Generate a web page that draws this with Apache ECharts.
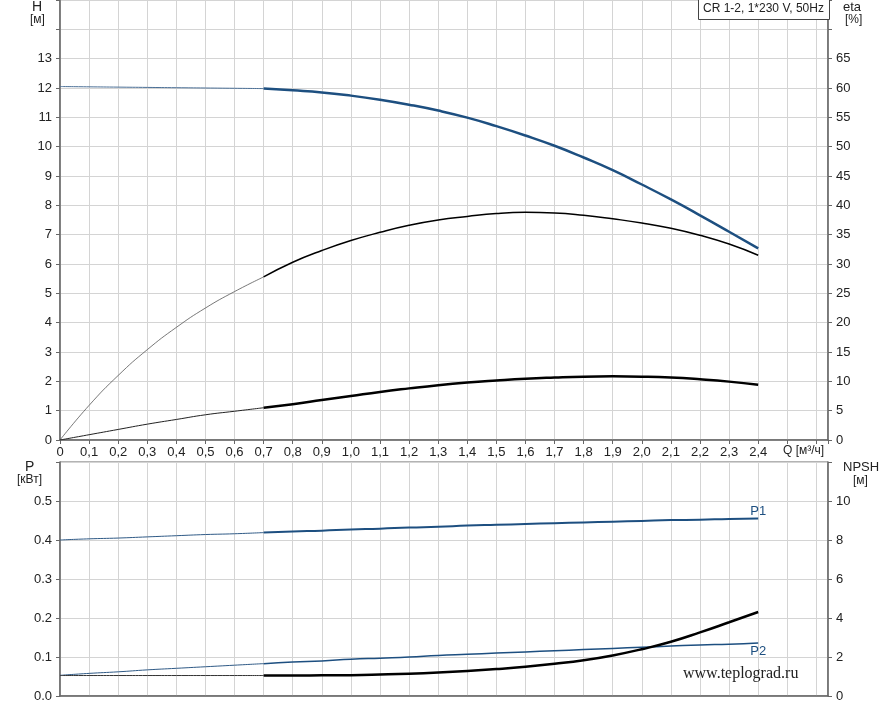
<!DOCTYPE html>
<html>
<head>
<meta charset="utf-8">
<script src="https://cdn.jsdelivr.net/npm/echarts@6/dist/echarts.min.js"></script>
<style>html,body{margin:0;padding:0;background:#fff}#c{width:893px;height:705px}</style>
</head>
<body>
<div id="c"></div>
<script>
// Flow values (m³/h)
var qThin = [0, 0.1, 0.2, 0.3, 0.4, 0.5, 0.6, 0.7];
var qThick = [0.7, 0.8, 0.9, 1.0, 1.1, 1.2, 1.3, 1.4, 1.5, 1.6, 1.7, 1.8, 1.9, 2.0, 2.1, 2.2, 2.3, 2.4];

// Head H [m]
var headThin = [12.05, 12.04, 12.03, 12.02, 12.01, 12.0, 11.99, 11.98];
var headThick = [11.98, 11.92, 11.85, 11.74, 11.60, 11.43, 11.23, 10.99, 10.70, 10.38, 10.03, 9.63, 9.20, 8.71, 8.20, 7.66, 7.10, 6.53];

// Pump efficiency eta [%]
var etaThin = [0, 5.9, 11.0, 15.4, 19.2, 22.5, 25.3, 27.8];
var etaThick = [27.8, 30.3, 32.3, 34.0, 35.4, 36.6, 37.5, 38.1, 38.6, 38.8, 38.7, 38.3, 37.7, 37.0, 36.1, 34.9, 33.4, 31.5];

// Total efficiency eta [%]
var etaTotThin = [0, 0.9, 1.8, 2.7, 3.5, 4.3, 4.9, 5.5];
var etaTotThick = [5.5, 6.1, 6.8, 7.5, 8.2, 8.8, 9.35, 9.8, 10.15, 10.45, 10.65, 10.8, 10.85, 10.8, 10.65, 10.35, 9.95, 9.4];

// Power P1, P2 [kW]
var p1Thin = [0.400, 0.403, 0.405, 0.408, 0.411, 0.414, 0.416, 0.419];
var p1Thick = [0.419, 0.422, 0.424, 0.427, 0.429, 0.432, 0.434, 0.437, 0.439, 0.441, 0.443, 0.445, 0.447, 0.449, 0.451, 0.452, 0.454, 0.455];
var p2Thin = [0.053, 0.058, 0.062, 0.067, 0.071, 0.075, 0.079, 0.083];
var p2Thick = [0.083, 0.087, 0.090, 0.094, 0.097, 0.100, 0.104, 0.107, 0.110, 0.113, 0.116, 0.119, 0.122, 0.125, 0.128, 0.131, 0.133, 0.136];

// NPSH [m]
var npshThin = [1.05, 1.05, 1.05, 1.05, 1.05, 1.05, 1.05, 1.05];
var npshThick = [1.05, 1.05, 1.06, 1.07, 1.10, 1.14, 1.20, 1.28, 1.38, 1.50, 1.65, 1.83, 2.08, 2.40, 2.78, 3.26, 3.78, 4.31];

var titleText = 'CR 1-2, 1*230 V, 50Hz';
var watermark = 'www.teplograd.ru';

function zip(q, v) { return q.map(function (x, i) { return [x, v[i]]; }); }

var BLUE = '#1d4f80';
var FONT = 'Liberation Sans, Arial, sans-serif';
var GRIDC = '#d4d4d4';
var AXC = '#666';
var LBL = { fontSize: 13, fontFamily: FONT, color: '#222' };

function line(name, data, xi, yi, color, width) {
  return {
    name: name, type: 'line', xAxisIndex: xi, yAxisIndex: yi, data: data,
    smooth: 0.5, showSymbol: false, symbol: 'none', silent: true,
    lineStyle: { color: color, width: width }, z: 5
  };
}

var chart = echarts.init(document.getElementById('c'), null, { renderer: 'canvas' });

var fmtQ = function (v) {
  if (v > 2.4001) return '';
  if (Math.abs(v) < 1e-9) return '0';
  return v.toFixed(1).replace('.', ',');
};

var p1Series = line('P1', zip(qThick, p1Thick), 1, 2, BLUE, 2);
p1Series.markPoint = {
  symbol: 'circle', symbolSize: 0, silent: true,
  data: [{ coord: [2.4, p1Thick[p1Thick.length - 1]] }],
  label: { show: true, position: 'top', formatter: 'P1', color: BLUE, fontSize: 13, fontFamily: FONT, distance: 1 }
};
var p2Series = line('P2', zip(qThick, p2Thick), 1, 2, BLUE, 1.5);
p2Series.markPoint = {
  symbol: 'circle', symbolSize: 0, silent: true,
  data: [{ coord: [2.4, p2Thick[p2Thick.length - 1]] }],
  label: { show: true, position: 'bottom', formatter: 'P2', color: BLUE, fontSize: 13, fontFamily: FONT, distance: 2 }
};

var option = {
  animation: false,
  backgroundColor: '#fff',
  grid: [
    { left: 60, right: 65, top: 0, height: 440, show: true, borderColor: AXC, borderWidth: 1 },
    { left: 60, right: 65, top: 462, height: 234, show: true, borderColor: AXC, borderWidth: 1 }
  ],
  xAxis: [
    {
      type: 'value', gridIndex: 0, min: 0, max: 2.64, interval: 0.1,
      axisLine: { show: true, onZero: false, lineStyle: { color: AXC, width: 1.5 } },
      axisTick: { show: true, length: 4, lineStyle: { color: AXC } },
      axisLabel: Object.assign({ margin: 6, formatter: fmtQ, showMaxLabel: true }, LBL),
      splitLine: { show: true, lineStyle: { color: GRIDC, width: 1 } }
    },
    {
      type: 'value', gridIndex: 1, min: 0, max: 2.64, interval: 0.1,
      axisLine: { show: true, onZero: false, lineStyle: { color: AXC, width: 1.5 } },
      axisTick: { show: false }, axisLabel: { show: false },
      splitLine: { show: true, lineStyle: { color: GRIDC, width: 1 } }
    }
  ],
  yAxis: [
    {
      type: 'value', gridIndex: 0, min: 0, max: 15, interval: 1, position: 'left',
      axisLine: { show: true, lineStyle: { color: AXC, width: 1.5 } },
      axisTick: { show: true, length: 4, lineStyle: { color: AXC } },
      axisLabel: Object.assign({ margin: 8, formatter: function (v) { return v <= 13 ? String(v) : ''; } }, LBL),
      splitLine: { show: true, lineStyle: { color: GRIDC, width: 1 } }
    },
    {
      type: 'value', gridIndex: 0, min: 0, max: 75, interval: 5, position: 'right',
      axisLine: { show: true, lineStyle: { color: AXC, width: 1.5 } },
      axisTick: { show: true, length: 4, lineStyle: { color: AXC } },
      axisLabel: Object.assign({ margin: 8, formatter: function (v) { return v <= 65 ? String(v) : ''; } }, LBL),
      splitLine: { show: false }
    },
    {
      type: 'value', gridIndex: 1, min: 0, max: 0.6, interval: 0.1, position: 'left',
      axisLine: { show: true, lineStyle: { color: AXC, width: 1.5 } },
      axisTick: { show: true, length: 4, lineStyle: { color: AXC } },
      axisLabel: Object.assign({ margin: 8, formatter: function (v) { return v <= 0.5001 ? v.toFixed(1) : ''; } }, LBL),
      splitLine: { show: true, lineStyle: { color: GRIDC, width: 1 } }
    },
    {
      type: 'value', gridIndex: 1, min: 0, max: 12, interval: 2, position: 'right',
      axisLine: { show: true, lineStyle: { color: AXC, width: 1.5 } },
      axisTick: { show: true, length: 4, lineStyle: { color: AXC } },
      axisLabel: Object.assign({ margin: 8, formatter: function (v) { return v <= 10 ? String(v) : ''; } }, LBL),
      splitLine: { show: false }
    }
  ],
  series: [
    line('H thin', zip(qThin, headThin), 0, 0, '#4a6f96', 1),
    line('H', zip(qThick, headThick), 0, 0, BLUE, 2.5),
    line('eta thin', zip(qThin, etaThin), 0, 1, '#555', 0.8),
    line('eta', zip(qThick, etaThick), 0, 1, '#000', 1.5),
    line('eta tot thin', zip(qThin, etaTotThin), 0, 1, '#222', 1),
    line('eta tot', zip(qThick, etaTotThick), 0, 1, '#000', 2.5),
    line('P1 thin', zip(qThin, p1Thin), 1, 2, '#2f5a86', 1),
    p1Series,
    line('P2 thin', zip(qThin, p2Thin), 1, 2, '#2f5a86', 1),
    p2Series,
    line('NPSH thin', zip(qThin, npshThin), 1, 3, '#333', 1),
    line('NPSH', zip(qThick, npshThick), 1, 3, '#000', 2.5)
  ],
  graphic: [
    { type: 'text', left: 32, top: 0, style: { text: 'H', font: '14px ' + FONT, fill: '#222' } },
    { type: 'text', left: 30, top: 14, style: { text: '[м]', font: '12px ' + FONT, fill: '#222' } },
    { type: 'text', left: 843, top: 1, style: { text: 'eta', font: '13px ' + FONT, fill: '#222' } },
    { type: 'text', left: 845, top: 14, style: { text: '[%]', font: '12px ' + FONT, fill: '#222' } },
    { type: 'text', left: 25, top: 460, style: { text: 'P', font: '14px ' + FONT, fill: '#222' } },
    { type: 'text', left: 17, top: 474, style: { text: '[кВт]', font: '12px ' + FONT, fill: '#222' } },
    { type: 'text', left: 843, top: 461, style: { text: 'NPSH', font: '13px ' + FONT, fill: '#222' } },
    { type: 'text', left: 853, top: 475, style: { text: '[м]', font: '12px ' + FONT, fill: '#222' } },
    { type: 'text', left: 783, top: 445, style: { text: 'Q [м³/ч]', font: '12px ' + FONT, fill: '#222' } },
    { type: 'rect', left: 698, top: -1, shape: { width: 131, height: 20 }, style: { fill: '#fff', stroke: '#444', lineWidth: 1 }, z: 50 },
    { type: 'text', left: 703, top: 3, style: { text: titleText, font: '12px ' + FONT, fill: '#222' }, z: 51 },
    { type: 'text', left: 683, top: 666, style: { text: watermark, font: '16px Liberation Serif, Times New Roman, serif', fill: '#222' }, z: 51 }
  ]
};
chart.setOption(option);
</script>
</body>
</html>
